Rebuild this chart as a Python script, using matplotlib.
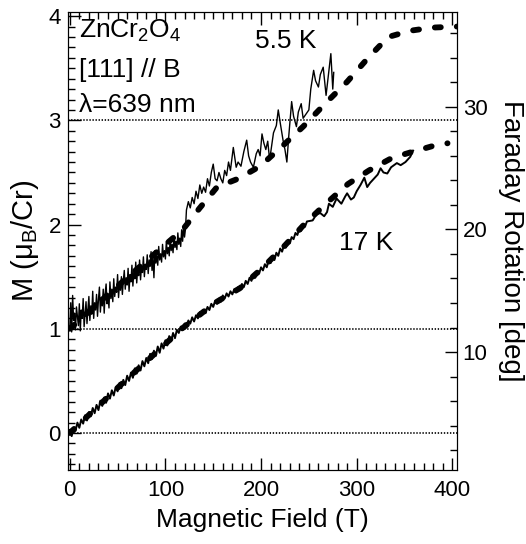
import matplotlib
matplotlib.use("Agg")
import matplotlib.pyplot as plt
from matplotlib.ticker import MultipleLocator

plt.rcParams['font.family'] = ['Liberation Sans', 'DejaVu Sans']
plt.rcParams['mathtext.fontset'] = 'custom'
plt.rcParams['mathtext.rm'] = 'Liberation Sans'
plt.rcParams['mathtext.it'] = 'Liberation Sans:italic'
plt.rcParams['lines.scale_dashes'] = False

# magnetization (thick dashed), in mu_B/Cr
mag17_x = [0, 30, 60, 90, 117, 138, 152, 178, 201, 225, 246, 269, 291, 313, 337, 359, 382, 395]
mag17_y = [0, 0.26, 0.52, 0.77, 1.0, 1.15, 1.25, 1.39, 1.58, 1.80, 2.01, 2.21, 2.39, 2.52, 2.64, 2.70, 2.76, 2.78]
mag55_x = [0, 40, 80, 118, 136, 154, 176, 199, 222, 244, 267, 290, 312, 333, 356, 379, 405]
mag55_y = [1.0, 1.33, 1.65, 1.95, 2.16, 2.36, 2.44, 2.56, 2.75, 2.94, 3.16, 3.37, 3.60, 3.80, 3.86, 3.89, 3.90]

# Faraday rotation traces (thin), shown on the M scale
# 5.5 K: dense noisy part sampled every 1 T up to 120 T, then sparser
far55_x = list(range(0, 121)) + [
    121, 122, 124, 126, 128, 130, 132, 134, 136, 138, 140, 142, 144, 146, 148, 150, 152,
    154, 156, 158, 160, 162, 164, 166, 168, 171, 174, 176, 179, 182, 185, 187, 189, 192,
    195, 197, 199, 201, 203, 205, 207, 209, 211, 213, 216, 218, 220, 223, 225, 227, 229,
    232, 234, 237, 239, 242, 244, 247, 250, 252, 255, 257, 260, 262, 265, 268, 270, 273,
    275, 276]
far55_y = [
    1.00, 1.25, 0.97, 1.32, 1.08, 1.15, 0.99, 1.21, 1.12, 1.03,
    1.24, 0.98, 1.18, 1.10, 1.29, 1.02, 1.14, 1.26, 1.05, 1.19,
    1.31, 1.08, 1.22, 1.14, 1.36, 1.10, 1.25, 1.18, 1.33, 1.12,
    1.28, 1.40, 1.16, 1.30, 1.22, 1.38, 1.15, 1.34, 1.43, 1.24,
    1.32, 1.20, 1.45, 1.29, 1.38, 1.26, 1.48, 1.31, 1.40, 1.35,
    1.52, 1.30, 1.44, 1.37, 1.50, 1.33, 1.46, 1.56, 1.38, 1.49,
    1.42, 1.58, 1.36, 1.52, 1.45, 1.61, 1.41, 1.55, 1.48, 1.64,
    1.44, 1.57, 1.51, 1.66, 1.47, 1.60, 1.54, 1.69, 1.50, 1.62,
    1.57, 1.71, 1.53, 1.66, 1.60, 1.74, 1.56, 1.68, 1.49, 1.75,
    1.63, 1.70, 1.61, 1.79, 1.66, 1.72, 1.64, 1.81, 1.69, 1.75,
    1.67, 1.84, 1.72, 1.78, 1.70, 1.86, 1.75, 1.81, 1.73, 1.89,
    1.78, 1.84, 1.76, 1.92, 1.81, 1.87, 1.79, 1.95, 1.84, 1.99,
    1.88,
    1.96, 2.14, 2.22, 2.16, 2.26, 2.20, 2.32, 2.25, 2.38, 2.30, 2.36, 2.31, 2.44, 2.37,
    2.50, 2.58, 2.44, 2.42, 2.50, 2.44, 2.40, 2.52, 2.47, 2.60, 2.52, 2.74, 2.55, 2.60,
    2.56, 2.70, 2.81, 2.66, 2.60, 2.55, 2.68, 2.72, 2.66, 2.87, 2.78, 2.72, 2.80, 2.62,
    2.75, 2.88, 2.95, 3.10, 2.98, 2.81, 2.72, 2.60, 2.85, 3.18, 3.04, 2.94, 3.08, 3.16,
    3.02, 3.06, 3.10, 3.30, 3.48, 3.38, 3.32, 3.44, 3.51, 3.24, 3.40, 3.64, 3.30, 3.46]

# 17 K: sampled every 2 T up to 248 T, then sparser
far17_x = list(range(0, 249, 2)) + [
    254, 258, 262, 266, 269, 271, 275, 279, 284, 288, 290, 294, 297, 300, 304, 308, 311,
    314, 318, 322, 325, 328, 332, 336, 342, 346, 351, 356, 359]
far17_y = [
    0.03, -0.03, 0.05, 0.02, 0.10, 0.05, 0.13, 0.09, 0.17, 0.12,
    0.20, 0.16, 0.24, 0.19, 0.27, 0.22, 0.31, 0.26, 0.34, 0.29,
    0.38, 0.33, 0.41, 0.36, 0.44, 0.40, 0.48, 0.43, 0.51, 0.46,
    0.55, 0.50, 0.58, 0.53, 0.62, 0.57, 0.65, 0.60, 0.69, 0.64,
    0.72, 0.67, 0.76, 0.71, 0.79, 0.74, 0.83, 0.77, 0.86, 0.81,
    0.89, 0.84, 0.93, 0.88, 0.96, 0.91, 0.99, 0.96, 1.02, 0.99,
    1.05, 1.02, 1.08, 1.05, 1.11, 1.07, 1.13, 1.10, 1.16, 1.13,
    1.18, 1.15, 1.21, 1.18, 1.24, 1.21, 1.27, 1.24, 1.29, 1.26,
    1.32, 1.29, 1.34, 1.31, 1.36, 1.33, 1.38, 1.35, 1.40, 1.37,
    1.43, 1.40, 1.46, 1.43, 1.49, 1.46, 1.52, 1.49, 1.55, 1.53,
    1.59, 1.56, 1.62, 1.59, 1.66, 1.63, 1.69, 1.66, 1.73, 1.70,
    1.77, 1.74, 1.80, 1.78, 1.84, 1.82, 1.88, 1.86, 1.92, 1.90,
    1.96, 1.94, 2.00, 1.98, 2.03,
    2.04, 2.10, 2.11, 2.08, 2.12, 2.20, 2.17, 2.25, 2.20, 2.27, 2.30, 2.24, 2.26, 2.32,
    2.38, 2.45, 2.36, 2.40, 2.44, 2.48, 2.54, 2.50, 2.49, 2.55, 2.59, 2.57, 2.60, 2.65,
    2.71]

ref_levels = [0, 1, 3]

fig = plt.figure(figsize=(5.26, 5.44), dpi=100)
ax = fig.add_axes([0.129, 0.136, 0.740, 0.842])
ax2 = ax.twinx()

for lv in ref_levels:
    ax.axhline(lv, color='black', lw=1.2, ls=(0, (1, 1.2)), zorder=1)

ax.plot(far55_x, far55_y, color='black', lw=1.0, zorder=3)
ax.plot(far17_x, far17_y, color='black', lw=1.4, zorder=3)
for xs, ys in [(mag55_x, mag55_y), (mag17_x, mag17_y)]:
    ax.plot(xs, ys, color='black', lw=4.2, dashes=(4.3, 11.5),
            dash_capstyle='round', zorder=4)

ax.set_xlim(-2, 405)
ax.set_ylim(-0.355, 4.04)
ax2.set_ylim(0.37, 37.75)

ax.xaxis.set_major_locator(MultipleLocator(100))
ax.xaxis.set_minor_locator(MultipleLocator(10))
ax.yaxis.set_major_locator(MultipleLocator(1))
ax.yaxis.set_minor_locator(MultipleLocator(0.1))
ax2.yaxis.set_major_locator(MultipleLocator(10))
ax2.yaxis.set_minor_locator(MultipleLocator(2))

ax.tick_params(which='both', direction='in', top=True, right=False, width=1)
ax.tick_params(which='major', length=9, labelsize=16)
ax.tick_params(which='minor', length=5)
ax.tick_params(axis='x', pad=7)
ax.tick_params(axis='y', pad=5)
ax2.tick_params(which='both', direction='in', width=1)
ax2.tick_params(which='major', length=9, labelsize=16, pad=4)
ax2.tick_params(which='minor', length=5)

ax.set_xlabel('Magnetic Field (T)', fontsize=19, labelpad=5)
ax.set_ylabel('M (μ$_\\mathrm{B}$/Cr)', fontsize=21, labelpad=5)
ax2.set_ylabel('Faraday Rotation [deg]', fontsize=20, rotation=-90, labelpad=26)

ax.text(0.028, 0.943, 'ZnCr$_2$O$_4$', transform=ax.transAxes, fontsize=19, va='baseline')
ax.text(0.028, 0.858, '[111] // B', transform=ax.transAxes, fontsize=19, va='baseline')
ax.text(0.028, 0.782, 'λ=639 nm', transform=ax.transAxes, fontsize=19, va='baseline')
ax.text(0.560, 0.921, '5.5 K', transform=ax.transAxes, fontsize=19, ha='center', va='baseline')
ax.text(0.766, 0.480, '17 K', transform=ax.transAxes, fontsize=19, ha='center', va='baseline')

fig.savefig('out.png', dpi=100)
